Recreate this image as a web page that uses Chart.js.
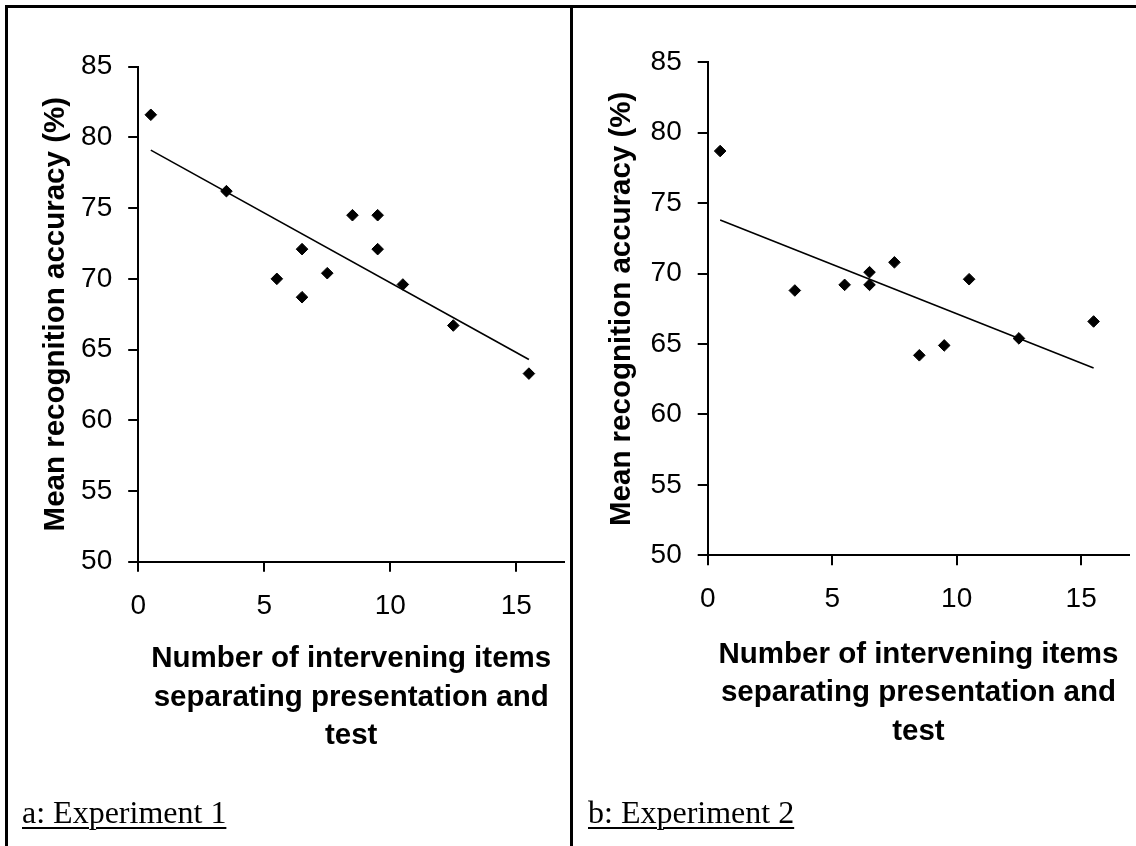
<!DOCTYPE html>
<html>
<head>
<meta charset="utf-8">
<script src="https://cdn.jsdelivr.net/npm/chart.js@4.4.1/dist/chart.umd.min.js"></script>
<style>
  html, body { margin: 0; padding: 0; background: #fff; }
  body { width: 1136px; height: 846px; position: relative; overflow: hidden; }
  .wrap { position: absolute; top: 0; height: 846px; overflow: hidden; }
  canvas { display: block; }
  .rule { position: absolute; background: #000; }
  .cap { position: absolute; font-family: "Liberation Serif", "Times New Roman", serif; font-size: 32px; line-height: 32px;
         color: #000; text-decoration: underline; text-decoration-thickness: 2px; text-underline-offset: 4px; white-space: nowrap; }
</style>
</head>
<body>
<div class="wrap" style="left:0px;width:571px;"><canvas id="chartA" width="571" height="846"></canvas></div>
<div class="wrap" style="left:570px;width:566px;"><canvas id="chartB" width="566" height="846"></canvas></div>
<div class="rule" style="left:5px;top:5px;width:1131px;height:3px;"></div>
<div class="rule" style="left:5px;top:5px;width:3px;height:841px;"></div>
<div class="rule" style="left:570px;top:5px;width:3px;height:841px;"></div>
<div class="cap" style="left:22px;top:796px;">a: Experiment 1</div>
<div class="cap" style="left:588px;top:796px;">b: Experiment 2</div>
<script>
// ---- data ----
const xTickValues = [0, 5, 10, 15];
const yTickValues = [50, 55, 60, 65, 70, 75, 80, 85];

const expA_x = [0.5, 3.5, 5.5, 6.5, 6.5, 7.5, 8.5, 9.5, 9.5, 10.5, 12.5, 15.5];
const expA_y = [81.6, 76.2, 70.0, 72.1, 68.7, 70.4, 74.5, 74.5, 72.1, 69.6, 66.7, 63.3];
const trendA_x = [0.5, 15.5];
const trendA_y = [79.1, 64.3];

const expB_x = [0.5, 3.5, 5.5, 6.5, 6.5, 7.5, 8.5, 9.5, 10.5, 12.5, 15.5];
const expB_y = [78.7, 68.8, 69.2, 70.1, 69.2, 70.8, 64.2, 64.9, 69.6, 65.4, 66.6];
const trendB_x = [0.5, 15.5];
const trendB_y = [73.8, 63.3];

const xTitleLines = ['Number of intervening items', 'separating presentation and', 'test'];
const yTitle = 'Mean recognition accuracy (%)';

// ---- drawing ----
const FONT = '"Liberation Sans", Arial, sans-serif';
const H = 846;

function pts(xs, ys) { return xs.map((x, i) => ({ x: x, y: ys[i] })); }

function makeChart(id, xs, ys, txs, tys, L) {
  return new Chart(document.getElementById(id), {
    type: 'scatter',
    data: {
      datasets: [
        {
          data: pts(xs, ys),
          pointStyle: 'rectRot',
          pointRadius: 5.8,
          pointHoverRadius: 5.8,
          pointBackgroundColor: '#000',
          pointBorderColor: '#000',
          pointBorderWidth: 1,
          showLine: false
        },
        {
          data: pts(txs, tys),
          showLine: true,
          pointRadius: 0,
          borderColor: '#000',
          borderWidth: 1.6,
          fill: false
        }
      ]
    },
    options: {
      responsive: false,
      animation: false,
      devicePixelRatio: 1,
      events: [],
      layout: { padding: { top: L.top, left: 0, right: 0, bottom: 0 } },
      plugins: { legend: { display: false }, tooltip: { enabled: false } },
      scales: {
        x: {
          type: 'linear',
          min: 0,
          max: L.xMax,
          afterBuildTicks: (s) => { s.ticks = xTickValues.map(v => ({ value: v })); },
          afterFit: (s) => { s.height = H - L.bottom; },
          border: { display: true, color: '#000', width: 2 },
          grid: { display: true, drawOnChartArea: false, drawTicks: true, tickLength: 10, lineWidth: 2, color: '#000' },
          ticks: { color: '#000', font: { family: FONT, size: 28 }, padding: 17.5, maxRotation: 0, autoSkip: false },
          title: {
            display: true,
            text: xTitleLines,
            color: '#000',
            font: { family: FONT, size: 29.5, weight: 'bold', lineHeight: '38.5px' },
            padding: { top: 0, bottom: L.xTitlePad }
          }
        },
        y: {
          type: 'linear',
          min: 50,
          max: 85,
          afterBuildTicks: (s) => { s.ticks = yTickValues.map(v => ({ value: v })); },
          afterFit: (s) => { s.width = L.left; },
          border: { display: true, color: '#000', width: 2 },
          grid: { display: true, drawOnChartArea: false, drawTicks: true, tickLength: 10, lineWidth: 2, color: '#000' },
          ticks: { color: '#000', font: { family: FONT, size: 28 }, padding: 16 },
          title: {
            display: true,
            text: yTitle,
            color: '#000',
            font: { family: FONT, size: 29.5, weight: 'bold', lineHeight: 1.2 },
            padding: { top: L.yTitlePad, bottom: 0 }
          }
        }
      }
    }
  });
}

makeChart('chartA', expA_x, expA_y, trendA_x, trendA_y,
  { top: 66.7, bottom: 561.7, left: 138.2, xMax: 16.9, xTitlePad: 90.75, yTitlePad: 38.3 });
makeChart('chartB', expB_x, expB_y, trendB_x, trendB_y,
  { top: 62.3, bottom: 555.3, left: 137.7, xMax: 16.93, xTitlePad: 95.25, yTitlePad: 33.8 });
</script>
</body>
</html>
